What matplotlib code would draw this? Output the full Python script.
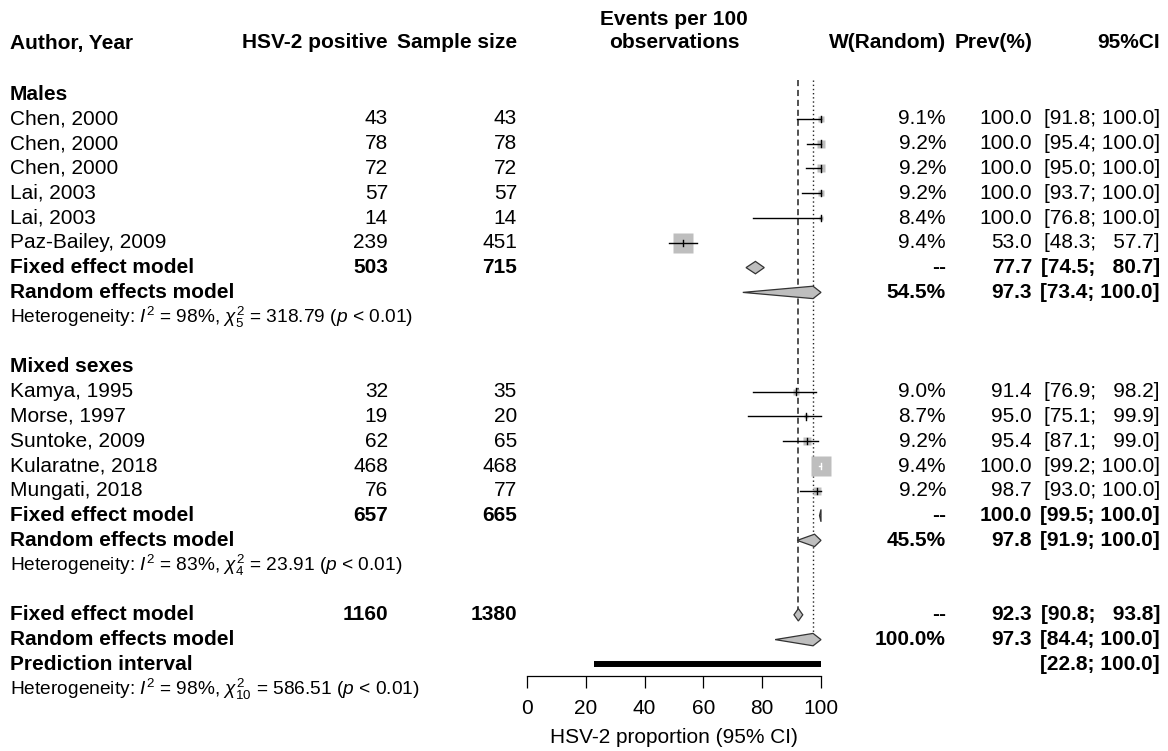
import matplotlib
matplotlib.use("Agg")
import matplotlib.pyplot as plt
import matplotlib.transforms as mtransforms
from matplotlib.patches import Polygon

plt.rcParams['font.family'] = ['Liberation Sans', 'DejaVu Sans']
plt.rcParams['mathtext.fontset'] = 'custom'
plt.rcParams['mathtext.rm'] = 'Liberation Sans'
plt.rcParams['mathtext.it'] = 'Liberation Sans:italic'
plt.rcParams['mathtext.bf'] = 'Liberation Sans:bold'

# --- data: males ---
males_study = ["Chen, 2000", "Chen, 2000", "Chen, 2000", "Lai, 2003", "Lai, 2003", "Paz-Bailey, 2009"]
males_events = [43, 78, 72, 57, 14, 239]
males_n = [43, 78, 72, 57, 14, 451]
males_w = [9.1, 9.2, 9.2, 9.2, 8.4, 9.4]
males_prev = [100.0, 100.0, 100.0, 100.0, 100.0, 53.0]
males_lo = [91.8, 95.4, 95.0, 93.7, 76.8, 48.3]
males_hi = [100.0, 100.0, 100.0, 100.0, 100.0, 57.7]

# --- data: mixed sexes ---
mixed_study = ["Kamya, 1995", "Morse, 1997", "Suntoke, 2009", "Kularatne, 2018", "Mungati, 2018"]
mixed_events = [32, 19, 62, 468, 76]
mixed_n = [35, 20, 65, 468, 77]
mixed_w = [9.0, 8.7, 9.2, 9.4, 9.2]
mixed_prev = [91.4, 95.0, 95.4, 100.0, 98.7]
mixed_lo = [76.9, 75.1, 87.1, 99.2, 93.0]
mixed_hi = [98.2, 99.9, 99.0, 100.0, 100.0]

# --- pooled estimates: [males, mixed, overall] ---
fixed_events = [503, 657, 1160]
fixed_n = [715, 665, 1380]
fixed_est = [77.7, 100.0, 92.3]
fixed_lo = [74.5, 99.5, 90.8]
fixed_hi = [80.7, 100.0, 93.8]
random_w = [54.5, 45.5, 100.0]
random_est = [97.3, 97.8, 97.3]
random_lo = [73.4, 91.9, 84.4]
random_hi = [100.0, 100.0, 100.0]
het_i2 = [98, 83, 98]
het_df = [5, 4, 10]
het_q = [318.79, 23.91, 586.51]
pred_lo, pred_hi = 22.8, 100.0

W, H = 1168, 751
ROW0, ROWH = 94, 24.8          # pixel y of first row, row height
X0, X1 = 527, 821              # pixel x of 0 and 100 on the forest axis
FS = 15
FS_HET = 13.8
GREY = '#BEBEBE'

fig = plt.figure(figsize=(W / 100, H / 100), dpi=100)
ax = fig.add_axes([X0 / W, 0, (X1 - X0) / W, 1])
ax.set_xlim(0, 100)
ax.set_ylim((H - ROW0) / ROWH, -ROW0 / ROWH)


def prow(px):
    return (px - ROW0) / ROWH


trans = mtransforms.blended_transform_factory(fig.transFigure, ax.transData)


def put(xpx, row, s, ha='right', bold=False, size=FS):
    ax.text(xpx / W, row, s, transform=trans, ha=ha, va='center',
            fontsize=size, fontweight='bold' if bold else 'normal')


COL_AUTH, COL_EV, COL_N, COL_W, COL_P, COL_CI = 10, 388, 517, 946, 1032, 1160

# headers
hr = prow(43)
put(COL_AUTH, hr, "Author, Year", ha='left', bold=True)
put(COL_EV, hr, "HSV-2 positive", bold=True)
put(COL_N, hr, "Sample size", bold=True)
ax.text(674 / W, prow(31), "Events per 100\nobservations", transform=trans,
        ha='center', va='center', fontsize=FS, fontweight='bold', linespacing=1.3)
put(COL_W, hr, "W(Random)", bold=True)
put(COL_P, hr, "Prev(%)", bold=True)
put(COL_CI, hr, "95%CI", bold=True)


def ci_text(lo, hi):
    return f"[{lo:4.1f}; {hi:5.1f}]".replace("[ ", "[  ").replace(";  ", ";   ")


def het_text(i2, df, q):
    return (r"Heterogeneity: $\mathit{I}^2$ = %d%%, $\chi^2_{%d}$ = %.2f ($\mathit{p}$ < 0.01)"
            % (i2, df, q))


max_n = max(males_n + mixed_n)


def study_rows(start, names, ev, n, w, prev, lo, hi):
    for i in range(len(names)):
        r = start + i
        put(COL_AUTH, r, names[i], ha='left')
        put(COL_EV, r, str(ev[i]))
        put(COL_N, r, str(n[i]))
        put(COL_W, r, f"{w[i]:.1f}%")
        put(COL_P, r, f"{prev[i]:.1f}")
        put(COL_CI, r, ci_text(lo[i], hi[i]))
        side = 20 * (n[i] / max_n) ** 0.5          # square side in px
        ax.plot(prev[i], r, marker='s', ms=side * 0.72, color=GREY,
                mec='none', clip_on=False, zorder=2)
        ci_px = (hi[i] - lo[i]) * (X1 - X0) / 100
        c = 'white' if ci_px < side else 'black'
        ax.plot([lo[i], hi[i]], [r, r], color=c, lw=1, clip_on=False, zorder=3)
        ax.plot([prev[i], prev[i]], [r - 0.13, r + 0.13], color=c, lw=1,
                clip_on=False, zorder=3)


def diamond(r, est, lo, hi):
    h = 0.25
    ax.add_patch(Polygon([(lo, r), (est, r - h), (hi, r), (est, r + h)],
                         closed=True, facecolor=GREY, edgecolor='#333333',
                         lw=0.9, clip_on=False, zorder=4))


def summary_rows(k, r_fixed, show_het_row):
    put(COL_AUTH, r_fixed, "Fixed effect model", ha='left', bold=True)
    put(COL_EV, r_fixed, str(fixed_events[k]), bold=True)
    put(COL_N, r_fixed, str(fixed_n[k]), bold=True)
    put(COL_W, r_fixed, "--", bold=True)
    put(COL_P, r_fixed, f"{fixed_est[k]:.1f}", bold=True)
    put(COL_CI, r_fixed, ci_text(fixed_lo[k], fixed_hi[k]), bold=True)
    diamond(r_fixed, fixed_est[k], fixed_lo[k], fixed_hi[k])
    r = r_fixed + 1
    put(COL_AUTH, r, "Random effects model", ha='left', bold=True)
    put(COL_W, r, f"{random_w[k]:.1f}%", bold=True)
    put(COL_P, r, f"{random_est[k]:.1f}", bold=True)
    put(COL_CI, r, ci_text(random_lo[k], random_hi[k]), bold=True)
    diamond(r, random_est[k], random_lo[k], random_hi[k])
    put(COL_AUTH, show_het_row, het_text(het_i2[k], het_df[k], het_q[k]),
        ha='left', size=FS_HET)


# males block
put(COL_AUTH, 0, "Males", ha='left', bold=True)
study_rows(1, males_study, males_events, males_n, males_w, males_prev, males_lo, males_hi)
summary_rows(0, 7, 9)

# mixed block
put(COL_AUTH, 11, "Mixed sexes", ha='left', bold=True)
study_rows(12, mixed_study, mixed_events, mixed_n, mixed_w, mixed_prev, mixed_lo, mixed_hi)
summary_rows(1, 17, 19)

# overall
summary_rows(2, 21, 24)
put(COL_AUTH, 23, "Prediction interval", ha='left', bold=True)
put(COL_CI, 23, ci_text(pred_lo, pred_hi), bold=True)
ax.plot([pred_lo, pred_hi], [23, 23], color='black', lw=4.3,
        solid_capstyle='butt', clip_on=False, zorder=4)

# reference lines for pooled estimates
ax.vlines(fixed_est[2], prow(80), 21, colors='#222222', lw=1.1,
          linestyles=(0, (4, 2.5)), zorder=1)
ax.vlines(random_est[2], prow(80), 22, colors='#222222', lw=1,
          linestyles=(0, (1, 2)), zorder=1)

# x axis
for s in ['top', 'left', 'right']:
    ax.spines[s].set_visible(False)
ax.spines['bottom'].set_position(('data', prow(676)))
ax.spines['bottom'].set_linewidth(0.9)
ax.set_yticks([])
ax.set_xticks([0, 20, 40, 60, 80, 100])
ax.tick_params(axis='x', direction='out', length=8.6, width=0.9,
               labelsize=FS, pad=8)
ax.set_xlabel("HSV-2 proportion (95% CI)", fontsize=FS, labelpad=7)
ax.patch.set_visible(False)

fig.savefig("out.png", dpi=100)
